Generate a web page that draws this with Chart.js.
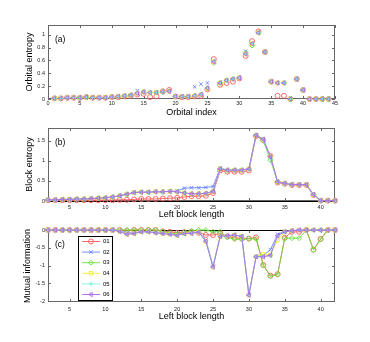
<!DOCTYPE html>
<html lang="en">
<head>
<meta charset="UTF-8">
<title>Entropy panels</title>
<script src="https://cdn.jsdelivr.net/npm/chart.js"></script>
<style>
  body { margin: 0; background: #fff; }
  #wrap { position: relative; width: 370px; height: 342px; }
  canvas { position: absolute; left: 0; top: 0; }
</style>
</head>
<body>
<div id="wrap">
  <canvas id="chartA" width="370" height="342"></canvas>
  <canvas id="chartB" width="370" height="342"></canvas>
  <canvas id="chartC" width="370" height="342"></canvas>
</div>
<script>
// series names, colours, markers
const seriesNames = ['01', '02', '03', '04', '05', '06'];
const colors = ['#ff5a5a', '#6680ff', '#66e03a', '#eeee33', '#7ff5e0', '#b266e6'];
const markers = ['circle', 'crossRot', 'rectRot', 'rect', 'cross', 'triangle'];

// (a) orbital entropy, orbital index 1..44
const orbitalIndex = [1,2,3,4,5,6,7,8,9,10,11,12,13,14,15,16,17,18,19,20,21,22,23,24,25,26,27,28,29,30,31,32,33,34,35,36,37,38,39,40,41,42,43,44];
const entropy01 = [0.01,0.01,0.02,0.02,0.02,0.03,0.02,0.02,0.02,0.03,0.03,0.04,0.05,0.07,0.08,0.03,0.04,0.12,0.14,0.04,0.03,0.03,0.04,0.05,0.15,0.62,0.22,0.25,0.27,0.32,0.67,0.90,1.05,0.73,0.27,0.05,0.05,0.00,0.31,0.14,0,0,0,0];
const entropy02 = [0.01,0.01,0.02,0.02,0.02,0.03,0.02,0.02,0.02,0.03,0.04,0.05,0.06,0.13,0.11,0.10,0.10,0.11,0.12,0.04,0.04,0.04,0.19,0.23,0.25,0.57,0.25,0.29,0.31,0.33,0.74,0.86,1.03,0.73,0.27,0.25,0.25,0.00,0.31,0.14,0,0,0,0];
const entropy03 = [0.01,0.01,0.02,0.02,0.02,0.03,0.02,0.02,0.02,0.03,0.04,0.05,0.06,0.09,0.11,0.10,0.10,0.11,0.12,0.04,0.04,0.04,0.05,0.07,0.17,0.56,0.25,0.29,0.31,0.33,0.72,0.83,1.03,0.73,0.27,0.25,0.25,0.00,0.31,0.14,0,0,0,0];
const entropy04 = [0.01,0.01,0.02,0.02,0.02,0.03,0.02,0.02,0.02,0.03,0.04,0.05,0.06,0.09,0.11,0.10,0.10,0.11,0.12,0.04,0.04,0.04,0.05,0.07,0.16,0.58,0.25,0.29,0.31,0.33,0.70,0.86,1.03,0.73,0.27,0.25,0.25,0.00,0.31,0.14,0,0,0,0];
const entropy05 = [0.01,0.01,0.02,0.02,0.02,0.03,0.02,0.02,0.02,0.03,0.04,0.05,0.06,0.09,0.11,0.10,0.10,0.11,0.12,0.04,0.04,0.04,0.05,0.07,0.17,0.58,0.25,0.29,0.31,0.33,0.70,0.86,1.03,0.73,0.27,0.25,0.25,0.00,0.31,0.14,0,0,0,0];
const entropy06 = [0.01,0.01,0.02,0.02,0.02,0.03,0.02,0.02,0.02,0.03,0.04,0.05,0.06,0.09,0.11,0.10,0.10,0.11,0.12,0.04,0.04,0.04,0.05,0.07,0.17,0.58,0.25,0.29,0.31,0.33,0.70,0.86,1.03,0.73,0.27,0.25,0.25,0.00,0.31,0.14,0,0,0,0];

// (b) block entropy and (c) mutual information, left block length 2..42
const blockLength = [2,3,4,5,6,7,8,9,10,11,12,13,14,15,16,17,18,19,20,21,22,23,24,25,26,27,28,29,30,31,32,33,34,35,36,37,38,39,40,41,42];
const block01 = [0.02,0.02,0.02,0.02,0.02,0.02,0.02,0.02,0.02,0.02,0.03,0.03,0.04,0.05,0.05,0.05,0.06,0.07,0.08,0.10,0.12,0.12,0.13,0.20,0.76,0.73,0.73,0.73,0.76,1.62,1.52,1.12,0.46,0.43,0.40,0.40,0.40,0.15,0.01,0.01,0.01];
const block02 = [0.03,0.03,0.04,0.04,0.05,0.05,0.06,0.07,0.08,0.10,0.13,0.17,0.21,0.22,0.22,0.23,0.23,0.24,0.25,0.32,0.33,0.33,0.34,0.36,0.82,0.77,0.77,0.77,0.80,1.64,1.54,1.10,0.48,0.44,0.41,0.41,0.41,0.16,0.01,0.01,0.01];
const block03 = [0.03,0.03,0.04,0.04,0.05,0.05,0.06,0.07,0.08,0.10,0.13,0.17,0.21,0.22,0.22,0.23,0.23,0.24,0.23,0.20,0.18,0.18,0.19,0.24,0.80,0.77,0.77,0.77,0.80,1.64,1.50,1.02,0.48,0.44,0.41,0.41,0.41,0.16,0.01,0.01,0.01];
const block04 = [0.03,0.03,0.04,0.04,0.05,0.05,0.06,0.07,0.08,0.10,0.13,0.17,0.21,0.22,0.22,0.23,0.23,0.24,0.23,0.20,0.18,0.18,0.19,0.24,0.80,0.77,0.77,0.77,0.80,1.64,1.54,1.10,0.48,0.44,0.41,0.41,0.41,0.16,0.01,0.01,0.01];
const block05 = [0.03,0.03,0.04,0.04,0.05,0.05,0.06,0.07,0.08,0.10,0.13,0.17,0.21,0.22,0.22,0.23,0.23,0.24,0.23,0.20,0.18,0.18,0.19,0.24,0.80,0.77,0.77,0.77,0.80,1.64,1.54,1.06,0.48,0.44,0.41,0.41,0.41,0.16,0.01,0.01,0.01];
const block06 = [0.03,0.03,0.04,0.04,0.05,0.05,0.06,0.07,0.08,0.10,0.13,0.17,0.21,0.22,0.22,0.23,0.23,0.24,0.23,0.20,0.18,0.18,0.19,0.24,0.80,0.77,0.77,0.77,0.80,1.64,1.54,1.10,0.48,0.44,0.41,0.41,0.41,0.16,0.01,0.01,0.01];

const mutual01 = [0,0,0,0,0,0,0,0,0,0,0,-0.02,0,0,0,0,-0.04,-0.05,-0.08,-0.06,-0.05,-0.08,-0.14,-0.14,-0.10,-0.18,-0.22,-0.24,-0.24,-0.21,-0.98,-1.28,-1.24,-0.22,-0.05,-0.05,0,-0.55,-0.25,0,0];
const mutual02 = [0,0,0,0,0,0,0,0,0,0,-0.03,-0.08,-0.08,-0.05,-0.05,-0.07,-0.09,-0.11,-0.13,-0.10,-0.09,-0.06,-0.28,-1.02,-0.18,-0.16,-0.14,-0.18,-1.80,-0.74,-0.72,-0.55,-0.12,-0.04,-0.02,0,0,0,0,0,0];
const mutual03 = [0,0,0,0,0,0,0,0,0,0,0,0,0,0,0,0,-0.04,-0.08,-0.12,-0.06,-0.02,0,0,-0.05,-0.05,-0.21,-0.26,-0.26,-0.25,-0.25,-0.99,-1.30,-1.25,-0.23,-0.23,-0.23,0,-0.56,-0.26,0,0];
const mutual04 = [0,0,0,0,0,0,0,0,0,0,-0.04,-0.12,-0.10,-0.05,-0.05,-0.08,-0.10,-0.12,-0.15,-0.10,-0.09,-0.06,-0.32,-1.04,-0.18,-0.16,-0.14,-0.18,-1.83,-0.75,-0.68,-0.70,-0.28,-0.05,-0.02,0,0,0,0,0,0];
const mutual05 = [0,0,0,0,0,0,0,0,0,0,-0.04,-0.12,-0.10,-0.05,-0.05,-0.08,-0.10,-0.12,-0.15,-0.10,-0.09,-0.06,-0.30,-1.00,-0.18,-0.16,-0.14,-0.18,-1.82,-0.75,-0.75,-0.71,-0.16,-0.05,-0.02,0,0,0,0,0,0];
const mutual06 = [0,0,0,0,0,0,0,0,0,0,-0.04,-0.12,-0.10,-0.05,-0.05,-0.08,-0.10,-0.12,-0.15,-0.10,-0.09,-0.06,-0.32,-1.04,-0.18,-0.16,-0.14,-0.18,-1.83,-0.75,-0.75,-0.71,-0.16,-0.05,-0.02,0,0,0,0,0,0];

// tick labels
const ticksOrbital = [0,5,10,15,20,25,30,35,40,45];
const ticksBlock = [5,10,15,20,25,30,35,40];
const ticksEntropy = [0,0.2,0.4,0.6,0.8,1];
const ticksBlockEntropy = [0,0.5,1,1.5];
const ticksMutual = [-2,-1.5,-1,-0.5,0];

const fontFam = '"Liberation Sans", Arial, Helvetica, sans-serif';

function makeSets(xs, series, withLine) {
  return series.map((vals, i) => ({
    label: seriesNames[i],
    data: xs.map((x, k) => ({ x: x, y: vals[k] })),
    showLine: withLine,
    borderColor: colors[i],
    backgroundColor: 'rgba(0,0,0,0)',
    pointBackgroundColor: 'rgba(0,0,0,0)',
    pointBorderColor: colors[i],
    pointStyle: markers[i],
    pointRotation: i === 5 ? -90 : 0,
    pointRadius: 2.5,
    pointBorderWidth: 0.9,
    borderWidth: 0.9,
    order: 6 - i,
    clip: false
  }));
}

// frame with inward ticks, zero line, panel letter, optional legend
const framePlugin = {
  id: 'frame',
  beforeDatasetsDraw(chart, args, opts) {
    const { ctx, chartArea: a, scales: { x, y } } = chart;
    ctx.save();
    ctx.strokeStyle = '#666';
    ctx.lineWidth = 1;
    ctx.strokeRect(a.left + 0.5, a.top + 0.5, a.right - a.left - 1, a.bottom - a.top - 1);
    ctx.beginPath();
    x.ticks.forEach(t => {
      const px = Math.round(x.getPixelForValue(t.value)) + 0.5;
      ctx.moveTo(px, a.bottom); ctx.lineTo(px, a.bottom - 3);
      ctx.moveTo(px, a.top); ctx.lineTo(px, a.top + 3);
    });
    y.ticks.forEach(t => {
      const py = Math.round(y.getPixelForValue(t.value)) + 0.5;
      ctx.moveTo(a.left, py); ctx.lineTo(a.left + 3, py);
      ctx.moveTo(a.right, py); ctx.lineTo(a.right - 3, py);
    });
    ctx.stroke();
    if (opts.zero) {
      const py = Math.round(y.getPixelForValue(0)) + 0.5;
      ctx.strokeStyle = '#000';
      ctx.beginPath();
      ctx.moveTo(a.left, py); ctx.lineTo(a.right, py);
      ctx.stroke();
    }
    if (opts.letter) {
      ctx.fillStyle = '#000';
      ctx.font = '8.5px ' + fontFam;
      ctx.textBaseline = 'middle';
      ctx.fillText(opts.letter, a.left + 7, a.top + opts.letterDy);
    }
    ctx.restore();
  },
  afterDatasetsDraw(chart, args, opts) {
    if (!opts.legend) return;
    const ctx = chart.ctx;
    const box = { left: 78.5, top: 236.5, w: 34, h: 64 };
    ctx.save();
    ctx.fillStyle = '#fff';
    ctx.fillRect(box.left, box.top, box.w, box.h);
    ctx.strokeStyle = '#000';
    ctx.lineWidth = 1;
    ctx.strokeRect(box.left, box.top, box.w, box.h);
    chart.data.datasets.forEach((ds, i) => {
      const yy = 241.5 + i * 10.6;
      ctx.strokeStyle = colors[i];
      ctx.lineWidth = 0.9;
      ctx.beginPath();
      ctx.moveTo(82, yy); ctx.lineTo(100, yy);
      ctx.stroke();
      ctx.fillStyle = 'rgba(0,0,0,0)';
      if (Chart.helpers && Chart.helpers.drawPoint) {
        Chart.helpers.drawPoint(ctx, { pointStyle: markers[i], rotation: i === 5 ? -90 : 0, radius: 2.5, borderWidth: 0.9 }, 91, yy);
      }
      ctx.fillStyle = '#000';
      ctx.font = '6px ' + fontFam;
      ctx.textBaseline = 'middle';
      ctx.fillText(ds.label, 103, yy);
    });
    ctx.restore();
  }
};

// plain labels like 1, 0.8, -2
const tickText = v => String(Math.round(v * 100) / 100);

function axes(p) {
  return {
    x: {
      type: 'linear', min: p.xmin, max: p.xmax,
      grid: { display: false, drawTicks: false }, border: { display: false },
      ticks: { font: { size: 5.5, family: fontFam }, color: '#222', padding: p.xpad, maxRotation: 0, callback: tickText },
      afterBuildTicks: s => { s.ticks = p.xticks.map(v => ({ value: v })); },
      afterFit: s => { s.height = p.xh; },
      title: { display: true, text: p.xtitle, color: '#000', font: { size: 9, family: fontFam }, padding: { top: 0, bottom: 1.6 } }
    },
    y: {
      type: 'linear', min: p.ymin, max: p.ymax,
      grid: { display: false, drawTicks: false }, border: { display: false },
      ticks: { font: { size: 5.5, family: fontFam }, color: '#222', padding: 3, callback: tickText },
      afterBuildTicks: s => { s.ticks = p.yticks.map(v => ({ value: v })); },
      afterFit: s => { s.width = 48; },
      title: { display: true, text: p.ytitle, color: '#000', font: { size: 9, family: fontFam }, padding: { top: p.ytpad, bottom: 0 } }
    }
  };
}

function baseOptions(pad, scales, frameOpts) {
  return {
    responsive: false, animation: false, devicePixelRatio: 1, events: [],
    layout: { padding: pad, autoPadding: false },
    scales: scales,
    plugins: { legend: { display: false }, tooltip: { enabled: false }, frame: frameOpts }
  };
}

new Chart(document.getElementById('chartA'), {
  type: 'scatter',
  data: { datasets: makeSets(orbitalIndex, [entropy01, entropy02, entropy03, entropy04, entropy05, entropy06], false) },
  options: baseOptions({ left: 0, right: 35, top: 25, bottom: 222 },
    axes({ xmin: 0, xmax: 45, xticks: ticksOrbital, ymin: 0, ymax: 1.15, yticks: ticksEntropy,
           xtitle: 'Orbital index', ytitle: 'Orbital entropy', xh: 21, xpad: 1.5, ytpad: 24.6 }),
    { letter: '(a)', letterDy: 15 }),
  plugins: [framePlugin]
});

new Chart(document.getElementById('chartB'), {
  type: 'scatter',
  data: { datasets: makeSets(blockLength, [block01, block02, block03, block04, block05, block06], true) },
  options: baseOptions({ left: 0, right: 35, top: 128, bottom: 120 },
    axes({ xmin: 2, xmax: 42, xticks: ticksBlock, ymin: 0, ymax: 1.82, yticks: ticksBlockEntropy,
           xtitle: 'Left block length', ytitle: 'Block entropy', xh: 21, xpad: 3.5, ytpad: 24.6 }),
    { letter: '(b)', letterDy: 15, zero: true }),
  plugins: [framePlugin]
});

new Chart(document.getElementById('chartC'), {
  type: 'scatter',
  data: { datasets: makeSets(blockLength, [mutual01, mutual02, mutual03, mutual04, mutual05, mutual06], true) },
  options: baseOptions({ left: 0, right: 35, top: 230, bottom: 18 },
    axes({ xmin: 2, xmax: 42, xticks: ticksBlock, ymin: -2.02, ymax: 0, yticks: ticksMutual,
           xtitle: 'Left block length', ytitle: 'Mutual information', xh: 22, xpad: 4, ytpad: 22.6 }),
    { letter: '(c)', letterDy: 15, zero: true, legend: true }),
  plugins: [framePlugin]
});
</script>
</body>
</html>
